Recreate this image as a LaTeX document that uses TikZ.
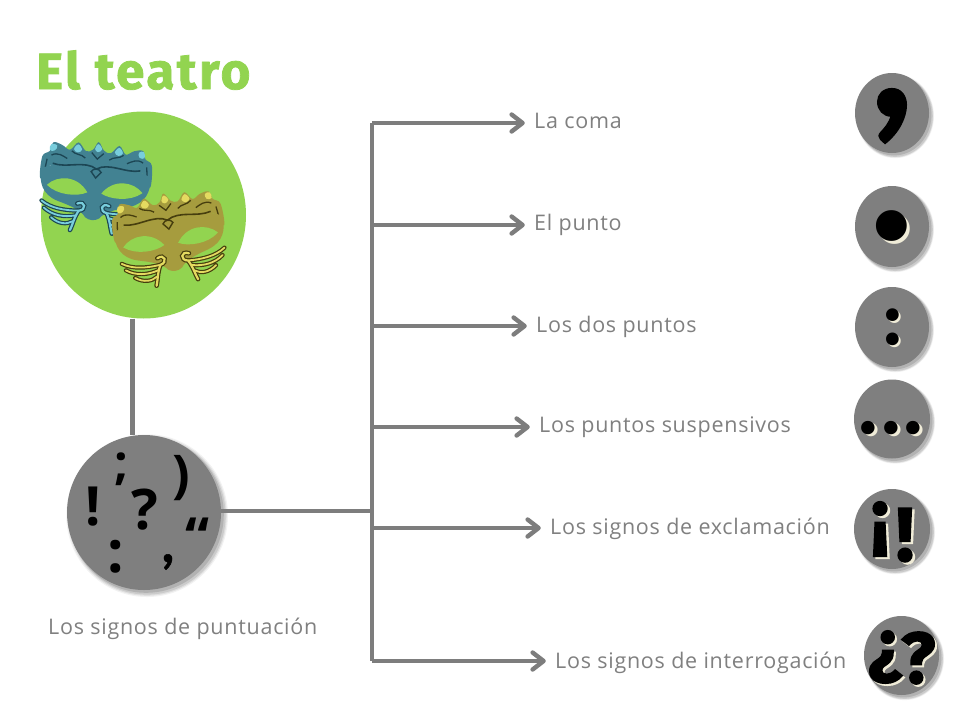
\documentclass[tikz,border=0pt]{standalone}
\usepackage{fontspec}
\usetikzlibrary{arrows.meta,shapes.geometric,shadows,calc}
\setmainfont{Open Sans}
\newfontfamily\labfont[LetterSpace=3.4]{Open Sans}
\newfontfamily\titlefont[BoldFont={Fira Sans Bold},BoldFeatures={FakeBold=1.5,LetterSpace=5}]{Fira Sans}
\newfontfamily\punctfont{Fira Sans Bold}
\newfontfamily\hubfont{Open Sans Bold}
\newfontfamily\commafont[FakeBold=1]{Lato Bold}
\newfontfamily\heavyfont[FakeBold=2]{Fira Sans Bold}
\definecolor{grn}{RGB}{146,212,80}
\definecolor{gry}{RGB}{127,127,127}
\definecolor{linegry}{RGB}{125,125,125}
\definecolor{txtgry}{RGB}{128,128,128}
\definecolor{cream}{RGB}{240,236,216}
\definecolor{tealm}{RGB}{66,130,146}
\definecolor{teald}{RGB}{28,70,84}
\definecolor{teall}{RGB}{120,205,220}
\definecolor{goldm}{RGB}{166,156,62}
\definecolor{goldd}{RGB}{70,62,14}
\definecolor{goldl}{RGB}{228,218,96}
\tikzset{
  softshadow/.style={
    general shadow={fill=black,opacity=.05,shadow xshift=3pt,shadow yshift=-3pt,shadow scale=1.05},
    general shadow={fill=black,opacity=.07,shadow xshift=3pt,shadow yshift=-3pt,shadow scale=1.035},
    general shadow={fill=black,opacity=.09,shadow xshift=3pt,shadow yshift=-3pt,shadow scale=1.02},
    general shadow={fill=black,opacity=.12,shadow xshift=2pt,shadow yshift=-2pt,shadow scale=1.01}},
  bubble/.style={ellipse,fill=gry,inner sep=0pt,minimum width=#1,softshadow},
  greenblob/.style={ellipse,fill=grn,inner sep=0pt,minimum width=205pt,minimum height=207pt},
  lab/.style={anchor=base west,inner sep=0pt,text=txtgry,font=\labfont\fontsize{21.5}{21.5}\selectfont},
  target/.style={inner sep=0pt,minimum size=0pt},
  trunk/.style={draw=linegry,line width=4.8pt},
  branch/.style={draw=linegry,line width=4.4pt,-{Straight Barb[length=11pt,width=17pt,line width=4.4pt,round]}},
  glyph/.style={inner sep=0pt,text=black,font=\punctfont\fontsize{#1}{#1}\selectfont},
  hubglyph/.style={inner sep=0pt,text=black,font=\hubfont\fontsize{#1}{#1}\selectfont},
  commaglyph/.style={inner sep=0pt,text=black,font=\commafont\fontsize{#1}{#1}\selectfont},
  cglyph/.style={inner sep=0pt,text=cream,font=\punctfont\fontsize{#1}{#1}\selectfont},
  hglyph/.style={inner sep=0pt,text=black,font=\heavyfont\fontsize{#1}{#1}\selectfont},
  hcglyph/.style={inner sep=0pt,text=cream,font=\heavyfont\fontsize{#1}{#1}\selectfont}
}
\newcommand{\mymask}[4]{%
  % crown
  \fill[#1] plot[smooth cycle,tension=.6] coordinates {(-55,-2)(-55,-24)(-48,-30)(-45,-39)(-36,-37)(-28,-33)(-20,-41)(-12,-33)(-5,-35)(0,-43)(6,-35)(13,-33)(21,-41)(28,-33)(36,-37)(45,-38)(48,-30)(55,-24)(55,-2)(45,-16)(0,-14)(-45,-16)};
  \draw[#2,line width=1.3pt] (-52,-6) -- (-50,-22) (-46,-26) .. controls (-40,-30) and (-34,-26) .. (-30,-24)
     (-26,-32) .. controls (-22,-28) and (-16,-30) .. (-12,-26) (-6,-32) -- (0,-26) -- (6,-32)
     (12,-26) .. controls (16,-30) and (22,-28) .. (26,-32) (30,-24) .. controls (34,-26) and (40,-30) .. (46,-26) (50,-22) -- (52,-6);
  \fill[#3] plot[smooth cycle,tension=.7] coordinates {(-47,-37)(-41,-36)(-43,-31)(-48,-31)};
  \fill[#3] plot[smooth cycle,tension=.7] coordinates {(-24,-34)(-20,-39)(-16,-34)(-20,-31)};
  \fill[#3] plot[smooth cycle,tension=.7] coordinates {(-3,-36)(0,-41)(4,-36)(0,-33)};
  \fill[#3] plot[smooth cycle,tension=.7] coordinates {(17,-34)(21,-39)(25,-34)(21,-31)};
  \fill[#3] plot[smooth cycle,tension=.7] coordinates {(41,-36)(46,-37)(47,-31)(42,-31)};
  % face
  \fill[#1] (-55,-12) .. controls (-35,-22) and (-15,-19) .. (0,-19) .. controls (15,-19) and (35,-22) .. (55,-12)
    .. controls (56,2) and (52,14) .. (36,19) .. controls (22,23) and (12,26) .. (7,33)
    .. controls (3,36) and (-3,36) .. (-7,33) .. controls (-12,26) and (-22,23) .. (-36,19)
    .. controls (-52,14) and (-56,2) .. (-55,-12) -- cycle;
  \draw[#2,line width=1.6pt] (-44,-18) .. controls (-30,-14) and (-12,-24) .. (0,-16) .. controls (12,-24) and (30,-14) .. (44,-18);
  \draw[#2,line width=1.4pt] (-5,-13) .. controls (-3,-17) and (3,-17) .. (5,-13) -- (0,-7) -- cycle;
  % eyes
  \fill[#4] (-48,4) .. controls (-38,-7) and (-18,-8) .. (-7,8) .. controls (-16,13) and (-36,14) .. (-48,4) -- cycle;
  \fill[#4] (48,4) .. controls (38,-7) and (18,-8) .. (7,8) .. controls (16,13) and (36,14) .. (48,4) -- cycle;
  % cheek scrolls
  \foreach \s in {-1,1}{
    \begin{scope}[xscale=\s]
      \draw[#2,line width=4.6pt,line cap=round] (16,20) .. controls (8,16) and (6,26) .. (14,27) .. controls (18,34) and (19,42) .. (21,47);
      \draw[#2,line width=4.2pt,line cap=round] (15,27) .. controls (28,28) and (42,27) .. (52,20) (17,32) .. controls (28,35) and (40,34) .. (49,27) (19,38) .. controls (25,42) and (33,42) .. (41,36);
      \draw[#3,line width=2.2pt,line cap=round] (16,20) .. controls (8,16) and (6,26) .. (14,27) .. controls (18,34) and (19,42) .. (21,47);
      \draw[#3,line width=1.8pt,line cap=round] (15,27) .. controls (28,28) and (42,27) .. (52,20) (17,32) .. controls (28,35) and (40,34) .. (49,27) (19,38) .. controls (25,42) and (33,42) .. (41,36);
    \end{scope}}
}
\begin{document}
\begin{tikzpicture}[x=1pt,y=-1pt]
\useasboundingbox (0,0) rectangle (960,720);
\fill[white] (0,0) rectangle (960,720);

\node[greenblob] (masks) at (143.5,215) {};
\node[bubble=154pt,minimum height=155pt] (hub) at (144,512.5) {};
\draw[draw=linegry,line width=5pt] (masks.south -| 132.5,0) -- (hub.north -| 132.5,0);

\begin{scope}[shift={(95,185)},rotate=-5]
  \mymask{tealm}{teald}{teall}{grn}
\end{scope}
\begin{scope}[shift={(170,236)},rotate=9]
  \mymask{goldm}{goldd}{goldl}{grn}
\end{scope}

\node[anchor=base west,inner sep=0pt,text=grn,font=\titlefont\bfseries\fontsize{51}{51}\selectfont] (title) at (36,89) {El teatro};

% hub glyphs
\node[hubglyph=48] (g1) at (121,469) {;};
\node[hubglyph=52] (g2) at (181,478) {)};
\node[hubglyph=54] (g3) at (93,507) {!};
\node[hubglyph=56] (g4) at (145,510) {?};
\node[hubglyph=58] (g5) at (116,557) {:};
\node[commaglyph=54] (g6) at (168,562) {,};
\node[hubglyph=54] (g7) at (198,537) {“};

\node[lab] (lhub) at (48,634) {Los signos de puntuación};

% spine
\coordinate (top) at (372,123);
\coordinate (j2) at (372,225);
\coordinate (j3) at (372,326);
\coordinate (j4) at (372,427);
\coordinate (j5) at (372,528);
\coordinate (bot) at (372,661);
\coordinate (jhub) at (372,511);

\node[target] (e1) at (525,123) {};
\node[target] (e2) at (525,225) {};
\node[target] (e3) at (527,326) {};
\node[target] (e4) at (530,427) {};
\node[target] (e5) at (541,528) {};
\node[target] (e6) at (546,661) {};

\draw[trunk] (top) -- (bot);
\draw[trunk] (hub.east |- jhub) -- (jhub);
\draw[branch] (top) -- (e1);
\draw[branch] (j2) -- (e2);
\draw[branch] (j3) -- (e3);
\draw[branch] (j4) -- (e4);
\draw[branch] (j5) -- (e5);
\draw[branch] (bot) -- (e6);

\node[lab] (l1) at (534,128) {La coma};
\node[lab] (l2) at (534,230) {El punto};
\node[lab] (l3) at (536,332) {Los dos puntos};
\node[lab] (l4) at (539,432) {Los puntos suspensivos};
\node[lab] (l5) at (550,534) {Los signos de exclamación};
\node[lab] (l6) at (555,668) {Los signos de interrogación};

% right-hand bubbles
\node[bubble=74pt,minimum height=80pt] (b1) at (892,113) {};
\node[bubble=74pt,minimum height=81pt] (b2) at (892,226.5) {};
\node[bubble=74pt,minimum height=80pt] (b3) at (892,327) {};
\node[bubble=76pt,minimum height=79pt] (b4) at (892,419) {};
\node[bubble=76pt,minimum height=80pt] (b5) at (892,529) {};
\node[bubble=75pt,minimum height=79pt] (b6) at (901.5,655.5) {};

\node[commaglyph=190] (c1) at (892,116) {,};
\node[cglyph=170] (c2s) at (895,229) {.};
\node[glyph=170] (c2) at (892,226) {.};
\node[cglyph=70] (c3s) at (895,329) {:};
\node[glyph=70] (c3) at (893,327) {:};
\node[cglyph=74] (c4s) at (894,430) {.\kern5pt.\kern5pt.};
\node[glyph=74] (c4) at (891,428) {.\kern5pt.\kern5pt.};
\node[hcglyph=76] (c5as) at (882.5,531) {¡};
\node[hglyph=76] (c5a) at (880,529) {¡};
\node[hcglyph=76] (c5bs) at (907.5,537) {!};
\node[hglyph=76] (c5b) at (905,535) {!};
\node[hcglyph=72] (c6as) at (888,659) {¿};
\node[hglyph=72] (c6a) at (886,657) {¿};
\node[hcglyph=72] (c6bs) at (920,660) {?};
\node[hglyph=72] (c6b) at (918,658) {?};
\end{tikzpicture}
\end{document}
